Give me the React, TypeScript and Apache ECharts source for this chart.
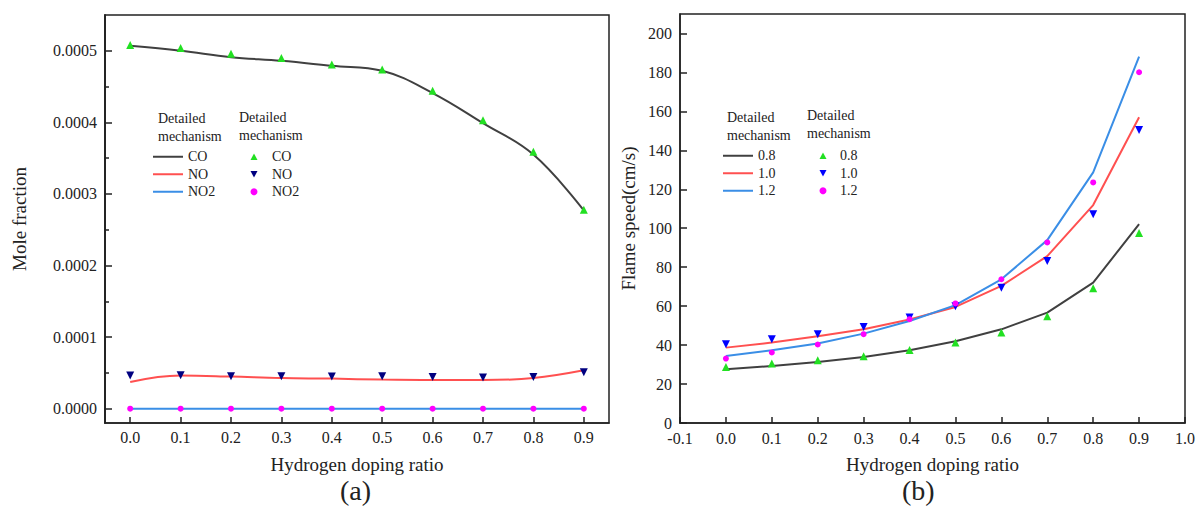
import React, { useEffect, useRef } from "react";
import * as echarts from "echarts";

// ---------- data ----------
const ratios = [0.0, 0.1, 0.2, 0.3, 0.4, 0.5, 0.6, 0.7, 0.8, 0.9];

// (a) mole fraction
const coLine = [0.000507, 0.0005, 0.000491, 0.000486, 0.000479, 0.000472, 0.000441, 0.000399, 0.000355, 0.000277];
const coMark = [0.000508, 0.000504, 0.000496, 0.00049, 0.000481, 0.000474, 0.000444, 0.000403, 0.000359, 0.000278];
const noLine = [0.0000372, 0.0000462, 0.0000448, 0.0000428, 0.000042, 0.0000406, 0.00004, 0.00004, 0.0000428, 0.0000536];
const noMark = [0.0000462, 0.0000466, 0.0000452, 0.0000452, 0.0000448, 0.0000452, 0.0000442, 0.0000434, 0.0000442, 0.0000508];
const no2Line = [0, 0, 0, 0, 0, 0, 0, 0, 0, 0];
const no2Mark = [0, 0, 0, 0, 0, 0, 0, 0, 0, 0];

// (b) flame speed
const phi08Line = [27.6, 29.3, 31.3, 33.9, 37.4, 42.0, 48.1, 56.7, 72.1, 102.1];
const phi08Mark = [28.8, 30.5, 32.2, 34.3, 37.5, 41.3, 46.5, 54.8, 69.2, 97.6];
const phi10Line = [38.7, 41.3, 44.6, 48.1, 53.1, 59.6, 70.4, 85.7, 111.9, 157.0];
const phi10Mark = [40.4, 43.0, 45.6, 49.3, 54.2, 60.0, 69.4, 83.2, 107.2, 150.4];
const phi12Line = [34.4, 37.4, 40.8, 45.9, 52.4, 60.5, 73.8, 93.9, 128.7, 188.1];
const phi12Mark = [33.1, 36.2, 40.3, 45.6, 53.3, 61.4, 73.8, 92.7, 123.5, 180.1];

// ticks
const leftYTicks = [0, 0.0001, 0.0002, 0.0003, 0.0004, 0.0005];
const leftYMinor = [0.00005, 0.00015, 0.00025, 0.00035, 0.00045];
const rightXTicks = [-0.1, 0.0, 0.1, 0.2, 0.3, 0.4, 0.5, 0.6, 0.7, 0.8, 0.9, 1.0];
const rightYTicks = [0, 20, 40, 60, 80, 100, 120, 140, 160, 180, 200];

const leftNames = ["CO", "NO", "NO2"];
const rightNames = ["0.8", "1.0", "1.2"];

const FONT = "Liberation Serif, Times New Roman, serif";
const AX = "#222";
const LINE_COLORS = ["#404040", "#ff5050", "#3a8ee6"];
const LEFT_MARK_COLORS = ["#22e022", "#000080", "#ff00ff"];
const RIGHT_MARK_COLORS = ["#22e022", "#0000ff", "#ff00ff"];

const UP_TRI = "path://M5,0L10,9L0,9Z";
const DOWN_TRI = "path://M0,0L10,0L5,9Z";
const LEGEND_ICONS = [UP_TRI, DOWN_TRI, "circle"];

const pairs = (ys: number[]) => ratios.map((x, i) => [x, ys[i]]);

export default function App() {
  const ref = useRef<HTMLDivElement>(null);
  useEffect(() => {
    if (!ref.current) return;
    const chart = echarts.init(ref.current, null, { renderer: "svg" });

    const axisLine = { show: true, onZero: false, lineStyle: { color: AX, width: 1.5 } };
    const tickStyle = { color: AX, width: 1.5 };
    const labelStyle = { color: AX, fontSize: 16, fontFamily: FONT, lineHeight: 14 };
    const nameStyle = { color: AX, fontSize: 19, fontFamily: FONT };

    const lineSeries = (name: string, data: number[], color: string, xi: number, smooth: boolean | number) => ({
      name: name + "|line",
      type: "line",
      xAxisIndex: xi,
      yAxisIndex: xi === 0 ? 0 : 2,
      data: pairs(data),
      symbol: "none",
      smooth,
      lineStyle: { color, width: 2 },
      itemStyle: { color },
      z: 2,
    });
    const markSeries = (name: string, data: number[], color: string, symbol: string, size: number, xi: number) => ({
      name: name + "|mark",
      type: "scatter",
      xAxisIndex: xi,
      yAxisIndex: xi === 0 ? 0 : 2,
      data: pairs(data),
      symbol,
      symbolSize: size,
      itemStyle: { color, opacity: 1 },
      z: 3,
    });

    const symbols = ["triangle", "triangle", "circle"];
    const rotations = [0, 180, 0];

    const leftLines = [coLine, noLine, no2Line];
    const leftMarks = [coMark, noMark, no2Mark];
    const rightLines = [phi08Line, phi10Line, phi12Line];
    const rightMarks = [phi08Mark, phi10Mark, phi12Mark];

    const series: any[] = [];
    leftNames.forEach((n, i) => series.push(lineSeries(n, leftLines[i], LINE_COLORS[i], 0, 0.4)));
    leftNames.forEach((n, i) => {
      const s: any = markSeries(n, leftMarks[i], LEFT_MARK_COLORS[i], symbols[i], i === 2 ? 6 : 8, 0);
      s.symbolRotate = rotations[i];
      series.push(s);
    });
    rightNames.forEach((n, i) => series.push(lineSeries("R" + n, rightLines[i], LINE_COLORS[i], 1, false)));
    rightNames.forEach((n, i) => {
      const s: any = markSeries("R" + n, rightMarks[i], RIGHT_MARK_COLORS[i], symbols[i], i === 2 ? 6 : 8, 1);
      s.symbolRotate = rotations[i];
      series.push(s);
    });

    const legendBase = {
      orient: "vertical",
      padding: 0,
      itemGap: 0,
      selectedMode: false,
      formatter: (name: string) => name.split("|")[0].replace(/^R/, ""),
    };
    const lineLegend = (left: number, top: number, names: string[]) => ({
      ...legendBase,
      left,
      top,
      itemWidth: 30,
      itemHeight: 2,
      textStyle: { color: AX, fontSize: 14, fontFamily: FONT, lineHeight: 17.5 },
      data: names.map((n) => ({ name: n, icon: "rect" })),
    });
    const markLegend = (left: number, top: number, names: string[], pad: number) => ({
      ...legendBase,
      left,
      top,
      itemWidth: 7,
      itemHeight: 7,
      symbolRotate: 0,
      textStyle: { color: AX, fontSize: 14, fontFamily: FONT, lineHeight: 17.5, padding: [0, 0, 0, pad] },
      data: names.map((n, i) => ({ name: n, icon: LEGEND_ICONS[i] })),
    });

    const headerText = (x: number, y: number) => ({
      type: "text",
      left: x,
      top: y,
      style: {
        text: "Detailed\nmechanism",
        fill: AX,
        font: `14px ${FONT}`,
        lineHeight: 18,
      },
    });

    const option: any = {
      animation: false,
      backgroundColor: "#fff",
      grid: [
        { left: 105, top: 15, width: 504, height: 408, show: true, borderColor: AX, borderWidth: 1.5, backgroundColor: "transparent" },
        { left: 680, top: 14, width: 505, height: 409, show: true, borderColor: AX, borderWidth: 1.5, backgroundColor: "transparent" },
      ],
      xAxis: [
        {
          gridIndex: 0,
          type: "value",
          min: -0.05,
          max: 0.95,
          axisLine,
          axisTick: { inside: true, length: 6, customValues: ratios, lineStyle: tickStyle },
          axisLabel: { ...labelStyle, customValues: ratios, margin: 7, formatter: (v: number) => v.toFixed(1) },
          splitLine: { show: false },
          name: "Hydrogen doping ratio",
          nameLocation: "middle",
          nameGap: 32,
          nameTextStyle: nameStyle,
        },
        {
          gridIndex: 1,
          type: "value",
          min: -0.1,
          max: 1.0,
          axisLine,
          axisTick: { inside: true, length: 6, customValues: rightXTicks, lineStyle: tickStyle },
          axisLabel: { ...labelStyle, customValues: rightXTicks, margin: 8, formatter: (v: number) => v.toFixed(1) },
          splitLine: { show: false },
          name: "Hydrogen doping ratio",
          nameLocation: "middle",
          nameGap: 32,
          nameTextStyle: nameStyle,
        },
      ],
      yAxis: [
        {
          gridIndex: 0,
          type: "value",
          position: "left",
          min: -0.00002,
          max: 0.00055,
          axisLine,
          axisTick: { inside: true, length: 7, customValues: leftYTicks, lineStyle: tickStyle },
          axisLabel: { ...labelStyle, customValues: leftYTicks, margin: 8, formatter: (v: number) => v.toFixed(4) },
          splitLine: { show: false },
          name: "Mole fraction",
          nameLocation: "middle",
          nameGap: 76,
          nameTextStyle: nameStyle,
        },
        {
          gridIndex: 0,
          type: "value",
          position: "right",
          offset: -504,
          min: -0.00002,
          max: 0.00055,
          axisLine: { show: true, onZero: false, lineStyle: { color: AX, width: 1.5 } },
          axisTick: { show: true, inside: false, length: 4, customValues: leftYMinor, lineStyle: tickStyle },
          axisLabel: { show: false },
          splitLine: { show: false },
        },
        {
          gridIndex: 1,
          type: "value",
          position: "left",
          min: 0,
          max: 210,
          axisLine,
          axisTick: { inside: true, length: 7, customValues: rightYTicks, lineStyle: tickStyle },
          axisLabel: { ...labelStyle, customValues: rightYTicks, margin: 8 },
          splitLine: { show: false },
          name: "Flame speed(cm/s)",
          nameLocation: "middle",
          nameGap: 42,
          nameTextStyle: nameStyle,
        },
      ],
      legend: [
        lineLegend(153, 148, leftNames.map((n) => n + "|line")),
        markLegend(250.5, 148, leftNames.map((n) => n + "|mark"), 9.5),
        lineLegend(723, 147, rightNames.map((n) => "R" + n + "|line")),
        markLegend(819.5, 147, rightNames.map((n) => "R" + n + "|mark"), 8.5),
      ],
      graphic: [
        headerText(158, 109),
        headerText(239, 108),
        headerText(727, 108),
        headerText(807, 106),
        { type: "text", left: 340, top: 476, style: { text: "(a)", fill: AX, font: `28px ${FONT}` } },
        { type: "text", left: 902, top: 476, style: { text: "(b)", fill: AX, font: `28px ${FONT}` } },
      ],
      series,
    };

    chart.setOption(option);
    return () => chart.dispose();
  }, []);

  return <div ref={ref} style={{ position: "absolute", left: 0, top: 0, width: 1199, height: 508 }} />;
}
